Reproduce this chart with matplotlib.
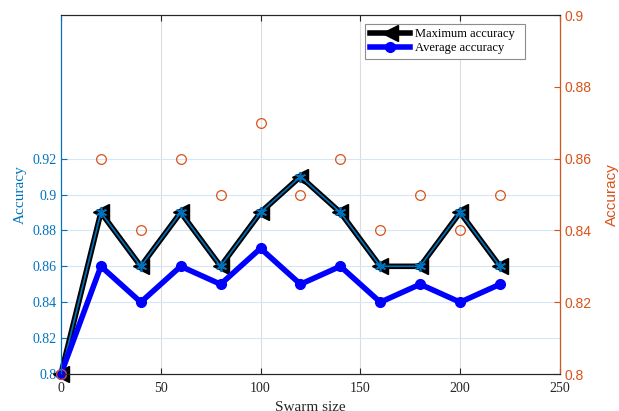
import matplotlib.pyplot as plt

# swarm size vs accuracy
swarm_size = [0, 20, 40, 60, 80, 100, 120, 140, 160, 180, 200, 220]
max_acc = [0.80, 0.89, 0.86, 0.89, 0.86, 0.89, 0.91, 0.89, 0.86, 0.86, 0.89, 0.86]
avg_acc = [0.80, 0.86, 0.84, 0.86, 0.85, 0.87, 0.85, 0.86, 0.84, 0.85, 0.84, 0.85]
right_acc = [0.80, 0.86, 0.84, 0.86, 0.85, 0.87, 0.85, 0.86, 0.84, 0.85, 0.84, 0.85]

x_ticks = [0, 50, 100, 150, 200, 250]
left_ticks = [0.80, 0.82, 0.84, 0.86, 0.88, 0.90, 0.92]
left_labels = ["0.8", "0.82", "0.84", "0.86", "0.88", "0.9", "0.92"]
right_ticks = [0.80, 0.82, 0.84, 0.86, 0.88, 0.90]
right_labels = ["0.8", "0.82", "0.84", "0.86", "0.88", "0.9"]

BLUE = "#0072BD"
ORANGE = "#D95319"
SERIF = "Liberation Serif"
SANS = "Liberation Sans"

fig = plt.figure(figsize=(6.19, 4.11), dpi=100)
ax = fig.add_axes([0.0985, 0.09, 0.806, 0.8735])

# grid
for xv in x_ticks[1:-1]:
    ax.axvline(xv, color="#dcdcdc", lw=0.8, zorder=0)
for yv in left_ticks[1:]:
    ax.axhline(yv, color="#d6e6f4", lw=0.8, zorder=0)

# maximum accuracy: black line with triangles, blue asterisks on top
ax.plot(swarm_size, max_acc, color="black", lw=4, marker="<", ms=11,
        mfc="black", mec="black", clip_on=False, zorder=3,
        label="Maximum accuracy  ")
ax.plot(swarm_size, max_acc, color=BLUE, lw=1.2, marker=(6, 2, 0), ms=8,
        mec=BLUE, mew=1.2, clip_on=False, zorder=4)
ax.plot(swarm_size, avg_acc, color="#0000FF", lw=4, marker="o", ms=7,
        mfc="#0000FF", mec="#0000FF", clip_on=False, zorder=5,
        label="Average accuracy  ")

ax.set_xlim(0, 250)
ax.set_ylim(0.80, 1.0)
ax.set_xticks(x_ticks)
ax.set_xticklabels([str(v) for v in x_ticks], fontsize=10, family=SERIF,
                   color="#262626")
ax.set_yticks(left_ticks)
ax.set_yticklabels(left_labels, fontsize=10, family=SERIF, color=BLUE)
ax.tick_params(axis="x", direction="in", top=True, length=4, color="#262626",
               pad=6)
ax.tick_params(axis="y", direction="in", length=4, color=BLUE, pad=3)
ax.set_xlabel("Swarm size", fontsize=11, family=SERIF, color="#262626",
              labelpad=4)
ax.set_ylabel("Accuracy", fontsize=11, family=SERIF, color=BLUE, labelpad=4)

for side in ["top", "bottom"]:
    ax.spines[side].set_color("#262626")
ax.spines["left"].set_color(BLUE)

leg = ax.legend(loc="upper right", bbox_to_anchor=(0.93, 0.975),
                prop={"family": SERIF, "size": 9}, fancybox=False,
                edgecolor="#8c8c8c", framealpha=1, borderaxespad=0,
                handlelength=3.2, handletextpad=0.4, labelspacing=0.15,
                borderpad=0.35)
leg.get_frame().set_linewidth(0.8)
leg.set_zorder(10)

# right axis
ax2 = ax.twinx()
ax2.plot(swarm_size, right_acc, linestyle="none", marker="o", ms=7,
         mfc="none", mec=ORANGE, mew=0.9, clip_on=False)
ax2.set_ylim(0.80, 0.90)
ax2.set_yticks(right_ticks)
ax2.set_yticklabels(right_labels, fontsize=10, family=SANS, color=ORANGE)
ax2.tick_params(axis="y", direction="in", length=4, color=ORANGE, pad=3)
ax2.set_ylabel("Accuracy", fontsize=11, family=SANS, color=ORANGE,
               labelpad=10)
ax2.spines["right"].set_color(ORANGE)
ax2.spines["left"].set_color(BLUE)
ax2.spines["top"].set_color("#262626")
ax2.spines["bottom"].set_color("#262626")

fig.savefig("out.png", dpi=100)
